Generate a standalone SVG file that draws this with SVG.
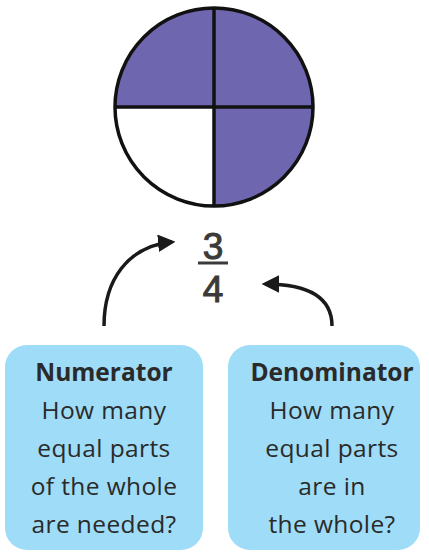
<svg xmlns="http://www.w3.org/2000/svg" width="429" height="552" viewBox="0 0 429 552">
<style>
.q{fill:#6e67b0;stroke:none}
.ln{stroke:#111;stroke-width:3.5;fill:none}
.box{fill:#9fdcf7}
.t{font-family:"Open Sans","Noto Sans",sans-serif;font-size:24.5px;letter-spacing:0.4px;fill:#2a2a2a;text-anchor:middle}
.b{font-weight:bold;letter-spacing:0px}
.arr{stroke:#1a1a1a;stroke-width:3.5;fill:none;marker-end:url(#ah)}
.fr{font-family:"Liberation Sans",Arial,sans-serif;font-size:37px;fill:#3a3a3a;stroke:#3a3a3a;stroke-width:1;text-anchor:middle}
</style>
<defs>
<marker id="ah" viewBox="0 0 10 10" refX="8" refY="5" markerWidth="5" markerHeight="5" orient="auto" markerUnits="strokeWidth">
<path d="M0,0 L10,5 L0,10 Z" fill="#1a1a1a"/>
</marker>
</defs>
<g id="circle">
<circle cx="214" cy="107" r="99" fill="#fff"/>
<path class="q" d="M214,107 L214,8 A99,99 0 0 0 115,107 Z"/>
<path class="q" d="M214,107 L214,8 A99,99 0 0 1 313,107 Z"/>
<path class="q" d="M214,107 L313,107 A99,99 0 0 1 214,206 Z"/>
<circle class="ln" cx="214" cy="107" r="99"/>
<line class="ln" x1="214" y1="8" x2="214" y2="206"/>
<line class="ln" x1="115" y1="107" x2="313" y2="107"/>
</g>
<g id="fraction">
<text class="fr" x="213" y="259">3</text>
<line x1="198" y1="263" x2="228" y2="263" stroke="#3a3a3a" stroke-width="3"/>
<text class="fr" x="213" y="302">4</text>
</g>
<g id="connectors">
<path class="arr" d="M104,326 C104,280 128,246 172,242"/>
<path class="arr" d="M332,326 C332,300 312,284 265,284"/>
</g>
<g id="numerator">
<rect class="box" x="5" y="345" width="198" height="205" rx="22"/>
<text class="t b" x="104" y="381">Numerator</text>
<text class="t" x="104" y="419">How many</text>
<text class="t" x="104" y="457">equal parts</text>
<text class="t" x="104" y="495">of the whole</text>
<text class="t" x="104" y="533">are needed?</text>
</g>
<g id="denominator">
<rect class="box" x="228" y="345" width="192" height="205" rx="22"/>
<text class="t b" x="332" y="381">Denominator</text>
<text class="t" x="332" y="419">How many</text>
<text class="t" x="332" y="457">equal parts</text>
<text class="t" x="332" y="495">are in</text>
<text class="t" x="332" y="533">the whole?</text>
</g>
</svg>
